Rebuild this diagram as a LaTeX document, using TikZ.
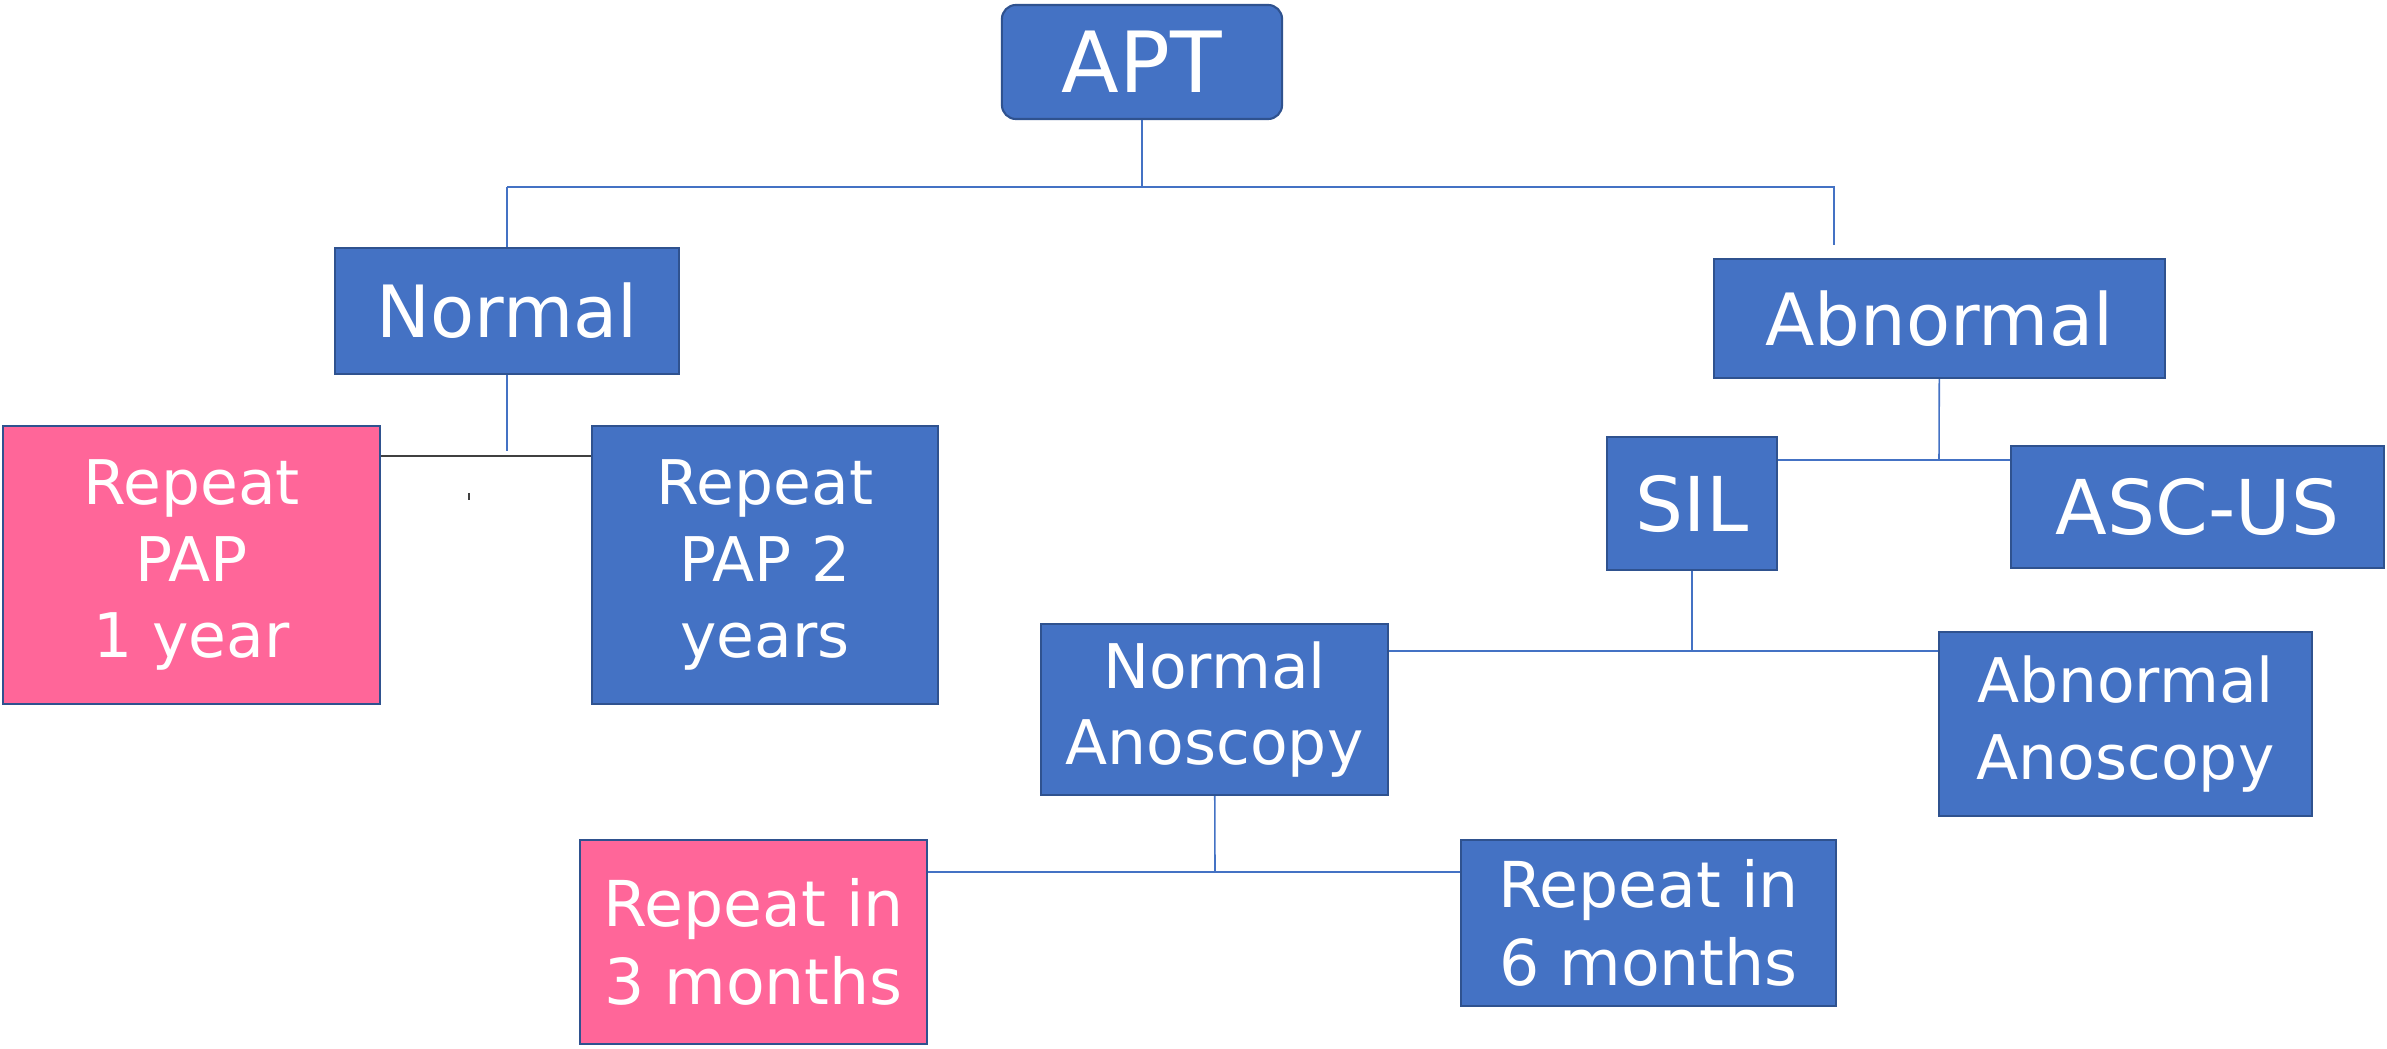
\documentclass[tikz,border=0pt]{standalone}
\usepackage{fontspec}
\setmainfont{DejaVu Sans}
\definecolor{boxblue}{HTML}{4472C4}
\definecolor{boxedge}{HTML}{2F528F}
\definecolor{boxpink}{HTML}{FF6699}
\definecolor{linkgray}{HTML}{404040}
\begin{document}
\begin{tikzpicture}[x=0.01cm, y=-0.01cm]
        % Define styles
        \tikzset{
            box/.style={draw=boxedge, line width=0.6pt, fill=boxblue, text=white, align=center, inner sep=0pt},
            pinkbox/.style={box, fill=boxpink},
            small/.style={font=\fontsize{17.5}{21.8}\selectfont},
            big/.style={font=\fontsize{20.5}{24}\selectfont},
            link/.style={draw=boxblue, line width=0.45pt},
            darklink/.style={draw=linkgray, line width=0.6pt}
        }
        \useasboundingbox (0,0) rectangle (2387,1049);
        % Top node
        \node[box, rounded corners=4pt, minimum width=2.80cm, minimum height=1.14cm, font=\fontsize{24}{28}\selectfont] (apt) at (1142,62) {APT};
        % First level
        \node[box, big, minimum width=3.44cm, minimum height=1.26cm] (normal) at (507,311) {Normal};
        \node[box, big, minimum width=4.51cm, minimum height=1.19cm] (abnormal) at (1939.5,318.5) {Abnormal};
        % Normal branch
        \node[pinkbox, small, minimum width=3.77cm, minimum height=2.78cm] (pap1) at (191.5,565) {Repeat\\PAP\\1 year};
        \node[box, small, minimum width=3.46cm, minimum height=2.78cm] (pap2) at (765,565) {Repeat\\PAP 2\\years};
        % Abnormal branch
        \node[box, font=\fontsize{21.5}{25}\selectfont, minimum width=1.70cm, minimum height=1.33cm] (sil) at (1692,503.5) {SIL};
        \node[box, font=\fontsize{21.5}{25}\selectfont, minimum width=3.73cm, minimum height=1.22cm] (ascus) at (2197.5,507) {ASC-US};
        \node[box, small, minimum width=3.47cm, minimum height=1.71cm] (normano) at (1214.5,709.5) {Normal\\Anoscopy};
        \node[box, small, minimum width=3.73cm, minimum height=1.84cm] (abnano) at (2125.5,724) {Abnormal\\Anoscopy};
        % Follow up
        \node[pinkbox, font=\fontsize{18}{22}\selectfont, minimum width=3.47cm, minimum height=2.04cm] (rep3) at (753.5,942) {Repeat in\\3 months};
        \node[box, font=\fontsize{18}{22}\selectfont, minimum width=3.75cm, minimum height=1.66cm] (rep6) at (1648.5,923) {Repeat in\\6 months};
        % Junction points
        \coordinate (split) at (1142,187);
        \coordinate (lefttop) at (507,187);
        \coordinate (righttop) at (1834,187);
        \coordinate (rightend) at (1834,245);
        \coordinate (papjoin) at (507,451);
        \coordinate (siljoin) at (1939,460);
        \coordinate (anojoin) at (1692,651);
        \coordinate (repjoin) at (1215,872);
        % Connectors
        \draw[link] (apt) -- (split);
        \draw[link] (lefttop) -- (righttop) -- (rightend);
        \draw[link] (lefttop) -- (normal);
        \draw[link] (normal) -- (papjoin);
        \draw[darklink] (pap1.east |- 0,456) -- (pap2.west |- 0,456);
        \draw[darklink] (469,493) -- (469,500);
        \draw[link] (abnormal) -- (siljoin);
        \draw[link] (sil.east |- siljoin) -- (ascus.west |- siljoin);
        \draw[link] (sil) -- (anojoin);
        \draw[link] (normano.east |- anojoin) -- (abnano.west |- anojoin);
        \draw[link] (normano) -- (repjoin);
        \draw[link] (rep3.east |- repjoin) -- (rep6.west |- repjoin);
\end{tikzpicture}
\end{document}
